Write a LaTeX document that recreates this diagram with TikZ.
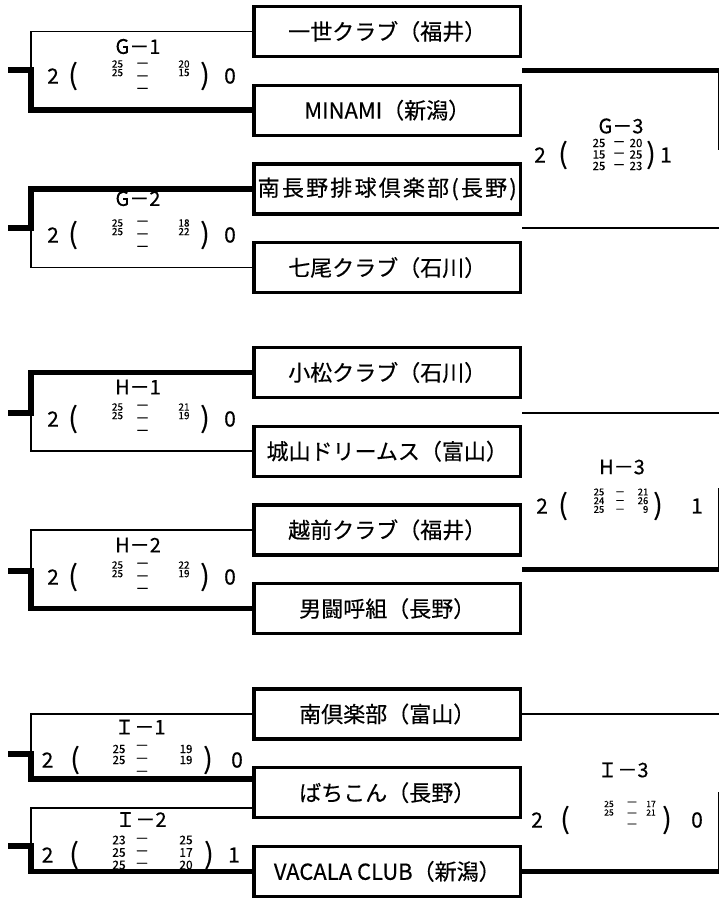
\documentclass[tikz,border=0pt]{standalone}
\usepackage{fontspec}
\setmainfont{Noto Sans CJK JP}[FakeBold=0.35]
\usetikzlibrary{positioning}

% one column of set points (or bars), one node per row
\newcommand{\scorecol}[6]{%
  \foreach \v [count=\k] in {#6}
    \node[#2] (#1\k) at (#3, {#4+(\k-1)*#5}) {\v};
}

\begin{document}
\begin{tikzpicture}[x=1pt, y=-1pt,
    node distance=25.5pt,
    team/.style={draw, line width=3.2pt, minimum width=266.5pt, minimum height=50pt, inner sep=0pt, font=\fontsize{22}{22}\selectfont},
    thinl/.style={line width=1.6pt},
    thickl/.style={line width=5.5pt},
    tag/.style={font=\fontsize{20}{20}\selectfont, inner sep=0pt},
    won/.style={font=\fontsize{21}{21}\selectfont, inner sep=0pt},
    paren/.style={font=\fontsize{28}{28}\selectfont, inner sep=0pt},
    pts/.style={font=\fontsize{10}{10}\selectfont, inner sep=0pt},
    bar/.style={font=\fontsize{14}{14}\selectfont, inner sep=0pt, text height=0.7em, text depth=0pt}
]
\useasboundingbox (0,0) rectangle (719,899);

% Block G
\node[team] (ga) at (387.25,31.5) {一世クラブ（福井）};
\node[team, below=of ga] (gb) {MINAMI（新潟）};
\node[team, below=of gb] (gc) {\addfontfeature{LetterSpace=10}南長野排球倶楽部(長野)};
\node[team, below=of gc] (gd) {七尾クラブ（石川）};

% Block H
\node[team] (ha) at (387.25,372.5) {小松クラブ（石川）};
\node[team, below=of ha] (hb) {城山ドリームス（富山）};
\node[team, below=of hb] (hc) {越前クラブ（福井）};
\node[team, below=of hc] (hd) {男闘呼組（長野）};

% Block I
\node[team] (ia) at (387.25,714) {南倶楽部（富山）};
\node[team, below=of ia] (ib) {ばちこん（長野）};
\node[team, below=of ib] (ic) {VACALA CLUB（新潟）};

% G-1
\node[tag] (g1tag) at (138,46.5) {G－1};
\node[won] (g1a) at (53,76) {2};
\node[paren] (g1p) at (73,76) {(};
\scorecol{g1l}{pts}{117.5}{64}{8.6}{25,25}
\scorecol{g1d}{bar}{142.5}{65}{12.6}{－,－,－}
\scorecol{g1r}{pts}{184}{64}{8.6}{20,15}
\node[paren] (g1q) at (205,76) {)};
\node[won] (g1b) at (230,76) {0};

% G-2
\node[tag] (g2tag) at (138,198.5) {G－2};
\node[won] (g2a) at (53,235) {2};
\node[paren] (g2p) at (73,235) {(};
\scorecol{g2l}{pts}{117.5}{223}{8.6}{25,25}
\scorecol{g2d}{bar}{142.5}{223}{12.6}{－,－,－}
\scorecol{g2r}{pts}{184}{223}{8.6}{18,22}
\node[paren] (g2q) at (205,235) {)};
\node[won] (g2b) at (230,235) {0};

% G-3
\node[tag] (g3tag) at (621,126) {G－3};
\node[won] (g3a) at (540,155) {2};
\node[paren] (g3p) at (563,155) {(};
\scorecol{g3l}{pts, font=\fontsize{11.5}{11.5}\selectfont}{599}{143}{11.5}{25,15,25}
\scorecol{g3d}{bar, font=\fontsize{13}{13}\selectfont}{619}{143}{11.5}{－,－,－}
\scorecol{g3r}{pts, font=\fontsize{11.5}{11.5}\selectfont}{636}{143}{11.5}{20,25,23}
\node[paren] (g3q) at (651,155) {)};
\node[won] (g3b) at (666,155) {1};

% H-1
\node[tag] (h1tag) at (138,387) {H－1};
\node[won] (h1a) at (53,419) {2};
\node[paren] (h1p) at (73,419) {(};
\scorecol{h1l}{pts}{117.5}{407}{8.6}{25,25}
\scorecol{h1d}{bar}{142.5}{407}{12.6}{－,－,－}
\scorecol{h1r}{pts}{184}{407}{8.6}{21,19}
\node[paren] (h1q) at (205,419) {)};
\node[won] (h1b) at (230,419) {0};

% H-2
\node[tag] (h2tag) at (138,545) {H－2};
\node[won] (h2a) at (53,577) {2};
\node[paren] (h2p) at (73,577) {(};
\scorecol{h2l}{pts}{117.5}{565}{8.6}{25,25}
\scorecol{h2d}{bar}{142.5}{565}{12.6}{－,－,－}
\scorecol{h2r}{pts}{184}{565}{8.6}{22,19}
\node[paren] (h2q) at (205,577) {)};
\node[won] (h2b) at (230,577) {0};

% H-3
\node[tag] (h3tag) at (622,467) {H－3};
\node[won] (h3a) at (542,506) {2};
\node[paren] (h3p) at (563,506) {(};
\scorecol{h3l}{pts, font=\fontsize{9.5}{9.5}\selectfont}{599}{492}{8.7}{25,24,25}
\scorecol{h3d}{bar, font=\fontsize{10}{10}\selectfont}{620}{492}{8.7}{－,－,－}
\scorecol{h3r}{pts, font=\fontsize{9.5}{9.5}\selectfont}{643}{492}{8.7}{21,26,{\hphantom{0}9}}
\node[paren] (h3q) at (658,506) {)};
\node[won] (h3b) at (697,506) {1};

% I-1
\node[tag] (i1tag) at (140,727) {Ｉ－1};
\node[won] (i1a) at (47.5,760) {2};
\node[paren] (i1p) at (75,760) {(};
\scorecol{i1l}{pts, font=\fontsize{11.5}{11.5}\selectfont}{119}{749}{11}{25,25}
\scorecol{i1d}{bar}{142}{747}{13}{－,－,－}
\scorecol{i1r}{pts, font=\fontsize{11.5}{11.5}\selectfont}{186}{749}{11}{19,19}
\node[paren] (i1q) at (208,760) {)};
\node[won] (i1b) at (237,760) {0};

% I-2
\node[tag] (i2tag) at (141,819.5) {Ｉ－2};
\node[won] (i2a) at (47.5,855) {2};
\node[paren] (i2p) at (74,855) {(};
\scorecol{i2l}{pts, font=\fontsize{12}{12}\selectfont}{119}{840}{12.5}{23,25,25}
\scorecol{i2d}{bar}{142}{840}{12.5}{－,－,－}
\scorecol{i2r}{pts, font=\fontsize{12}{12}\selectfont}{186}{840}{12.5}{25,17,20}
\node[paren] (i2q) at (209,855) {)};
\node[won] (i2b) at (234,855) {1};

% I-3
\node[tag] (i3tag) at (623,770) {Ｉ－3};
\node[won] (i3a) at (537,820) {2};
\node[paren] (i3p) at (565,820) {(};
\scorecol{i3l}{pts, font=\fontsize{8.5}{8.5}\selectfont}{609}{804}{8.5}{25,25}
\scorecol{i3d}{bar, font=\fontsize{12}{12}\selectfont}{632}{803}{11}{－,－,－}
\scorecol{i3r}{pts, font=\fontsize{8.5}{8.5}\selectfont}{651}{804}{8.5}{17,21}
\node[paren] (i3q) at (667,820) {)};
\node[won] (i3b) at (697,820) {0};

% Left brackets
\coordinate (g1s) at (31,70);   \coordinate (g1e) at (8,70);
\coordinate (g2s) at (31,228);  \coordinate (g2e) at (8,228);
\coordinate (h1s) at (31,413);  \coordinate (h1e) at (8,413);
\coordinate (h2s) at (31,571);  \coordinate (h2e) at (8,571);
\coordinate (i1s) at (31,754);  \coordinate (i1e) at (8,754);
\coordinate (i2s) at (31,846);  \coordinate (i2e) at (8,846);
\coordinate (i1b) at (252.4,779);
\coordinate (i2t) at (252.4,808);

\draw[thinl] (ga.west) -| (g1s);
\draw[thickl] (g1e) -- (g1s) |- (gb.west);
\draw[thinl] (gd.west) -| (g2s);
\draw[thickl] (g2e) -- (g2s) |- (gc.west);
\draw[thinl] (hb.west) -| (h1s);
\draw[thickl] (h1e) -- (h1s) |- (ha.west);
\draw[thinl] (hc.west) -| (h2s);
\draw[thickl] (h2e) -- (h2s) |- (hd.west);
\draw[thinl] (ia.west) -| (i1s);
\draw[thickl] (i1e) -- (i1s) |- (i1b);
\draw[thinl] (i2t) -| (i2s);
\draw[thickl] (i2e) -- (i2s) |- (ic.west);

% Right brackets
\coordinate (edge) at (721,0);
\coordinate (g3t) at (522,70.5); \coordinate (g3b) at (522,228);
\coordinate (g3m) at (718.3,150);
\coordinate (h3t) at (522,413);  \coordinate (h3b) at (522,569.5);
\coordinate (h3m) at (718.3,488);
\coordinate (i3m) at (718.3,792);

\draw[thickl] (g3t) -- (g3t -| edge);
\draw[thinl] (g3b) -- (g3b -| edge);
\draw[thinl] (g3t -| g3m) -- (g3m);
\draw[thinl] (h3t) -- (h3t -| edge);
\draw[thickl] (h3b) -- (h3b -| edge);
\draw[thinl] (h3m) -- (h3b -| h3m);
\draw[thinl] (ia.east) -- (ia.east -| edge);
\draw[thickl] (ic.east) -- (ic.east -| edge);
\draw[thinl] (i3m) -- (ic.east -| i3m);

\end{tikzpicture}
\end{document}
